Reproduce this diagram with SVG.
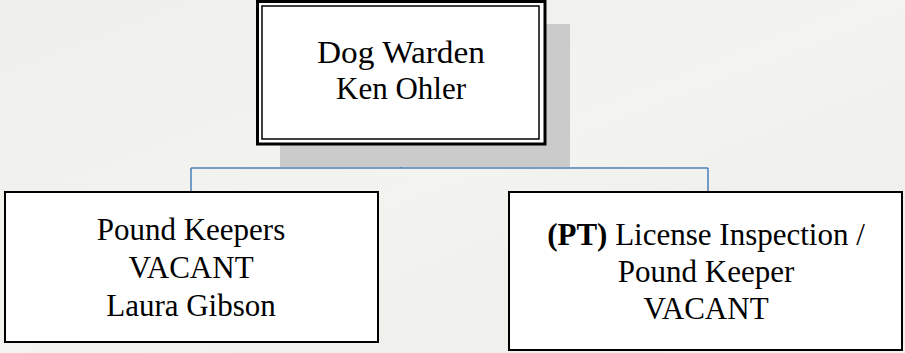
<svg xmlns="http://www.w3.org/2000/svg" width="905" height="353" viewBox="0 0 905 353">
  <defs>
    <linearGradient id="bg" x1="0" y1="0" x2="1" y2="1">
      <stop offset="0" stop-color="#efefeb"/>
      <stop offset="0.5" stop-color="#f3f3ef"/>
      <stop offset="0.7" stop-color="#f0f0ec"/>
      <stop offset="1" stop-color="#f2f2ee"/>
    </linearGradient>
    <style>
      .box { fill: #ffffff; stroke: #000000; stroke-width: 2; }
      .txt { font-family: 'Liberation Serif', 'DejaVu Serif', serif; font-size: 31px; fill: #000000; text-anchor: middle; }
      .conn { fill: none; stroke: #4a7ebb; stroke-width: 1.5; }
    </style>
  </defs>
  <rect x="0" y="0" width="905" height="353" fill="url(#bg)"/>

  <g id="connectors">
    <path class="conn" d="M401 145 V168"/>
    <path class="conn" d="M191 168 H708"/>
    <path class="conn" d="M191 168 V192"/>
    <path class="conn" d="M708 168 V192"/>
  </g>

  <g id="node-dog-warden">
    <rect x="280" y="24" width="290" height="143" fill="#cbcbcb"/>
    <rect x="257.5" y="1.5" width="287.5" height="142.5" fill="#ffffff" stroke="#000000" stroke-width="3"/>
    <rect x="262" y="6" width="277" height="133" fill="none" stroke="#000000" stroke-width="1.5"/>
    <text class="txt" x="401" y="63" font-size="32" textLength="168" lengthAdjust="spacingAndGlyphs">Dog Warden</text>
    <text class="txt" x="401" y="99">Ken Ohler</text>
  </g>

  <g id="node-pound-keepers">
    <rect class="box" x="5" y="192" width="373" height="150"/>
    <text class="txt" x="191" y="240">Pound Keepers</text>
    <text class="txt" x="191" y="278">VACANT</text>
    <text class="txt" x="191" y="316">Laura Gibson</text>
  </g>

  <g id="node-license-inspection">
    <rect class="box" x="509" y="192" width="393" height="158"/>
    <text class="txt" x="706" y="245"><tspan font-weight="bold">(PT)</tspan> License Inspection /</text>
    <text class="txt" x="706" y="282">Pound Keeper</text>
    <text class="txt" x="706" y="319">VACANT</text>
  </g>
</svg>
